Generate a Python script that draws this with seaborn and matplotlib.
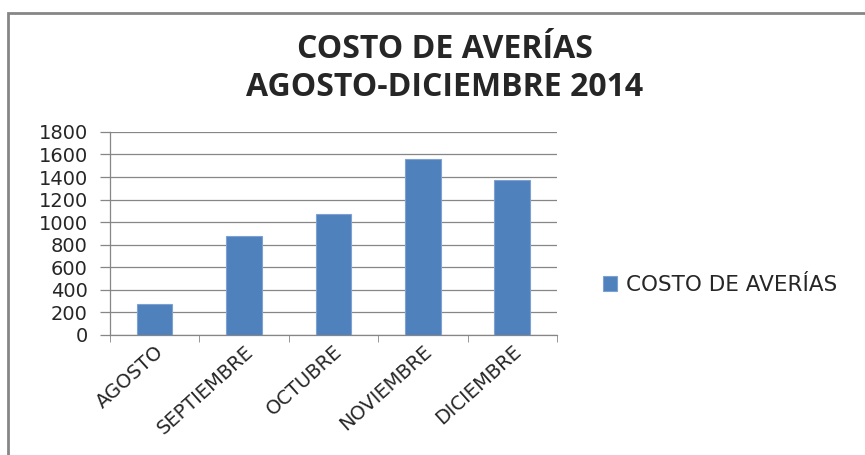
import pandas as pd
import seaborn as sns
import matplotlib.pyplot as plt
from matplotlib.patches import Rectangle

# datos
meses = ['AGOSTO', 'SEPTIEMBRE', 'OCTUBRE', 'NOVIEMBRE', 'DICIEMBRE']
costo = [275, 875, 1070, 1562, 1377]
serie = 'COSTO DE AVERÍAS'

df = pd.DataFrame({'mes': meses, 'costo': costo})

sns.set_style('white')
plt.rcParams['font.family'] = ['DejaVu Sans']

fig = plt.figure(figsize=(8.65, 4.55), dpi=100)
ax = fig.add_axes([0.127, 0.264, 0.517, 0.446])

sns.barplot(x='mes', y='costo', data=df, color='#4F81BD', width=0.4,
            edgecolor='#7DA1D0', linewidth=0.8, saturation=1, ax=ax,
            label=serie, zorder=3)

ax.set_ylim(0, 1800)
ax.set_yticks(range(0, 1801, 200))
ax.set_xlim(-0.5, len(meses) - 0.5)
ax.set_xlabel('')
ax.set_ylabel('')
ax.yaxis.grid(True, color='#868686', linewidth=0.9, zorder=0)
ax.set_axisbelow(True)

for s in ['top', 'right']:
    ax.spines[s].set_visible(False)
for s in ['left', 'bottom']:
    ax.spines[s].set_color('#868686')
    ax.spines[s].set_linewidth(0.9)

# ticks del eje x en los limites de las categorias
ax.set_xticks([i - 0.5 for i in range(len(meses) + 1)], minor=True)
ax.tick_params(axis='x', which='minor', length=5, color='#868686', direction='out', bottom=True)
ax.tick_params(axis='x', which='major', length=0, pad=5)
ax.tick_params(axis='y', length=7, width=0.9, color='#868686', direction='out', left=True,
               labelsize=14, pad=9)
ax.set_xticks(range(len(meses)))
ax.set_xticklabels(meses, rotation=42, ha='right', rotation_mode='anchor', fontsize=14)

fig.text(0.514, 0.850, 'COSTO DE AVERÍAS\nAGOSTO-DICIEMBRE 2014', ha='center', va='center',
         fontsize=23, fontweight='bold', linespacing=1.22, family='Open Sans')

ax.legend(loc='center left', bbox_to_anchor=(1.06, 0.245), frameon=False, fontsize=15.5,
          handlelength=0.65, handleheight=0.65, handletextpad=0.4)

# borde del area del grafico
fig.add_artist(Rectangle((8 / 865, -0.05), 1.0, 1 - 13 / 455 + 0.05, transform=fig.transFigure,
                         fill=False, edgecolor='#868686', linewidth=2))

fig.savefig('out.png', dpi=100)
